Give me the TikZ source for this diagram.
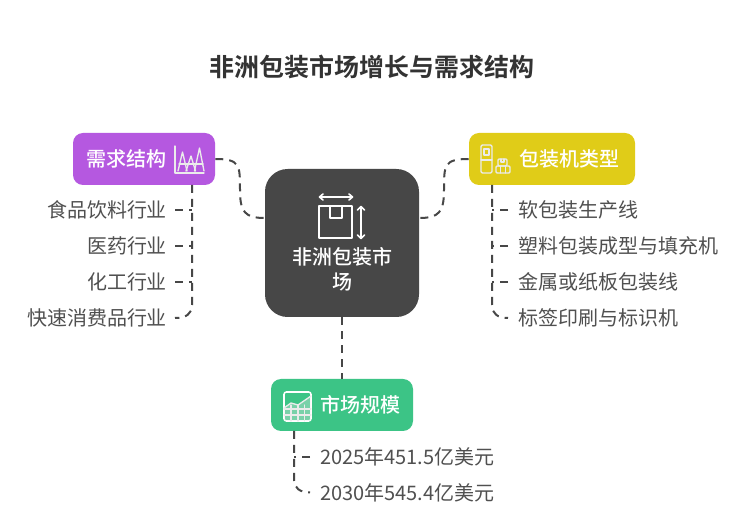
\documentclass[tikz,border=0pt]{standalone}
\usepackage{fontspec}
\setmainfont{Noto Sans CJK SC}
\newfontfamily\titlefont{Noto Sans CJK SC Bold}
\newfontfamily\medfont{Noto Sans CJK SC Medium}
\definecolor{cpurple}{HTML}{B558E0}
\definecolor{cyellow}{HTML}{E0CC18}
\definecolor{cgreen}{HTML}{3CC486}
\definecolor{cdark}{HTML}{474747}
\definecolor{cleaf}{HTML}{505050}
\tikzset{
  px/.style={x=0.75pt,y=-0.75pt},
  hub/.style={fill=#1,rounded corners=7.5pt,inner sep=0pt,minimum height=39pt},
  hubtext/.style={text=white,font=\medfont\fontsize{15pt}{18pt}\selectfont,inner sep=0pt,anchor=west},
  leafl/.style={text=cleaf,font=\fontsize{15pt}{18pt}\selectfont,inner ysep=0pt,inner xsep=0pt,outer xsep=6pt,anchor=east},
  leafr/.style={text=cleaf,font=\fontsize{15pt}{18pt}\selectfont,inner ysep=0pt,inner xsep=0pt,outer xsep=7.5pt,anchor=west},
  conn/.style={draw=cdark,line width=1.5pt,dash pattern=on 6pt off 4.5pt},
  ico/.style={draw=white,line width=1.2pt,line join=round,line cap=round},
  icosm/.style={draw=white!92!black,line width=1pt,line join=round,line cap=round},
}
\begin{document}
\begin{tikzpicture}[px]
\useasboundingbox (0,0) rectangle (744,527);
\fill[white] (0,0) rectangle (744,527);
\node[text=black!80,font=\titlefont\fontsize{18.7pt}{22pt}\selectfont,inner sep=0pt] (title) at (372,67) {非洲包装市场增长与需求结构};
% hubs
\node[fill=cdark,rounded corners=17pt,inner sep=0pt,minimum width=115.5pt,minimum height=111pt] (core) at (342,243) {};
\node[hub=cpurple,minimum width=106.5pt] (demand) at (144,159) {};
\node[hub=cyellow,minimum width=124.5pt] (types) at (552,159) {};
\node[hub=cgreen,minimum width=106.5pt] (size) at (342,405) {};
% hub text
\node[text=white,font=\medfont\fontsize{15pt}{18pt}\selectfont,align=center,inner sep=0pt] (coretext) at (342,269) {非洲包装市\\[1pt]场};
\node[hubtext] (demandtext) at (86,159) {需求结构};
\node[hubtext] (typestext) at (519,159) {包装机类型};
\node[hubtext] (sizetext) at (320,405) {市场规模};
% leaves
\node[leafl] (l1) at (175,209.7) {食品饮料行业};
\node[leafl] (l2) at (175,245.7) {医药行业};
\node[leafl] (l3) at (175,281.7) {化工行业};
\node[leafl] (l4) at (175,318) {快速消费品行业};
\node[leafr] (r1) at (508,209.7) {软包装生产线};
\node[leafr] (r2) at (508,245.7) {塑料包装成型与填充机};
\node[leafr] (r3) at (508,281.7) {金属或纸板包装线};
\node[leafr] (r4) at (508,318) {标签印刷与标识机};
\node[leafr] (s1) at (310,456.7) {2025年451.5亿美元};
\node[leafr] (s2) at (310,492.5) {2030年545.4亿美元};
% connectors
\coordinate (dt) at (192,185);
\coordinate (tt) at (492,185);
\coordinate (st) at (294,431);
\draw[conn] (demand.east) .. controls (240,159) and (240,165) .. (240,190) .. controls (240,212) and (245,218) .. (core.west |- 0,218);
\draw[conn] (types.west) .. controls (444,159) and (444,165) .. (444,190) .. controls (444,212) and (439,218) .. (core.east |- 0,218);
\draw[conn] (core.south) -- (size.north);
\draw[conn] (dt) -- (192,305) .. controls (192,314) and (186,318) .. (l4.east);
\foreach \n in {l1,l2,l3} \draw[conn] (\n.east) -- (\n.east -| dt);
\draw[conn] (tt) -- (492,305) .. controls (492,314) and (498,318) .. (r4.west);
\foreach \n in {r1,r2,r3} \draw[conn] (\n.west) -- (\n.west -| tt);
\draw[conn] (st) -- (294,480) .. controls (294,488) and (300,492.5) .. (s2.west);
\draw[conn] (s1.west) -- (s1.west -| st);
% core icon
\draw[ico] (319,206) rectangle (352,238);
\draw[ico] (330,206) -- (330,218) -- (342,218) -- (342,206);
\draw[ico] (320,197) -- (352,197);
\draw[ico] (323,194) -- (319.5,197) -- (323,200);
\draw[ico] (349,194) -- (352.5,197) -- (349,200);
\draw[ico] (361,207) -- (361,238);
\draw[ico] (357.5,210) -- (361,206.5) -- (364.5,210);
\draw[ico] (357.5,235) -- (361,238.5) -- (364.5,235);
% demand icon
\draw[icosm] (175,146) -- (175,173) -- (204,173);
\draw[icosm] (178,171) -- (182.5,152) -- (187,171);
\draw[icosm] (186,171) -- (191,156) -- (195.5,171);
\draw[icosm] (194.5,171) -- (199.5,148) -- (204,171);
\draw[icosm] (179,164) -- (203,164);
% types icon
\draw[icosm,rounded corners=1pt] (481,145) rectangle (492,173);
\draw[icosm] (481,160) -- (492,160);
\draw[icosm] (484,149) rectangle (489,155);
\draw[icosm,rounded corners=0.8pt] (498,159) rectangle (507,166);
\draw[icosm] (501,159) -- (501,162) -- (504,162) -- (504,159);
\draw[icosm,rounded corners=0.8pt] (496,166) rectangle (510,173);
\draw[icosm] (500.7,166) -- (500.7,173);
\draw[icosm] (505.3,166) -- (505.3,173);
% size icon
\draw[ico,rounded corners=1.8pt] (284,392) rectangle (311,421);
\fill[white!92!black,opacity=.35] (284,408) -- (291,403) -- (298,405) -- (311,396) -- (311,421) -- (284,421) -- cycle;
\draw[icosm] (284,408) -- (291,403) -- (298,405) -- (311,396);
\foreach \x in {291,298,304.5} \draw[icosm] (\x,405) -- (\x,421);
\foreach \y in {409,415} \draw[icosm] (284,\y) -- (311,\y);
\end{tikzpicture}
\end{document}
